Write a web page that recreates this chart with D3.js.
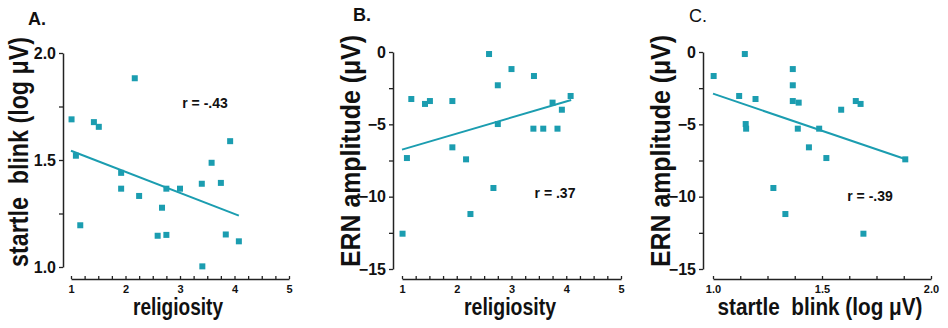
<!DOCTYPE html>
<html>
<head>
<meta charset="utf-8">
<script src="https://cdn.jsdelivr.net/npm/d3@7"></script>
<style>
  html, body { margin: 0; padding: 0; background: #fff; }
  svg { display: block; }
  .tick text { font-family: "Liberation Sans", Arial, sans-serif; font-weight: bold; fill: #111; }
  .title { font-family: "Liberation Sans", Arial, sans-serif; font-weight: bold; fill: #111; }
</style>
</head>
<body>
<svg id="chart" width="948" height="328"></svg>
<script>
// ---- data: 21 subjects ----
const religiosity = [1.01, 1.09, 1.17, 1.42, 1.51, 1.92, 1.92, 2.17, 2.25, 2.59, 2.67, 2.75, 2.75, 3.00, 3.40, 3.41, 3.58, 3.75, 3.84, 3.92, 4.08];
const startle     = [1.69, 1.52, 1.195, 1.677, 1.655, 1.44, 1.366, 1.882, 1.332, 1.146, 1.277, 1.150, 1.366, 1.366, 1.389, 1.003, 1.487, 1.393, 1.152, 1.588, 1.12];
const ern         = [-12.56, -7.33, -3.25, -3.59, -3.39, -6.59, -3.39, -7.42, -11.2, -0.14, -9.4, -4.98, -2.3, -1.18, -5.3, -1.66, -5.3, -3.5, -5.3, -3.99, -3.04];

// regression lines (endpoints)
const fitA_x = [1.0, 4.08], fitA_y = [1.543, 1.24];
const fitB_x = [1.0, 4.09], fitB_y = [-6.75, -3.32];
const fitC_x = [1.0, 1.881], fitC_y = [-2.88, -7.40];

// tick values
const religTicks = [1, 1.25, 1.5, 1.75, 2, 2.25, 2.5, 2.75, 3, 3.25, 3.5, 3.75, 4, 4.25, 4.5, 4.75, 5];
const religLabels = [1, 2, 3, 4, 5];
const startleTicks = [1, 1.25, 1.5, 1.75, 2];
const startleLabels = [1, 1.5, 2];
const startleXTicks = [1, 1.125, 1.25, 1.375, 1.5, 1.625, 1.75, 1.875, 2];
const ernTicks = [0, -2.5, -5, -7.5, -10, -12.5, -15];
const ernLabels = [0, -5, -10, -15];

const panels = ["A.", "B.", "C."];
const rLabels = ["r = -.43", "r = .37", "r = -.39"];
const xTitles = ["religiosity", "religiosity", "startle\u00a0\u00a0blink (log \u03bcV)"];
const yTitles = ["startle\u00a0\u00a0blink (log \u03bcV)", "ERN amplitude (\u03bcV)", "ERN amplitude (\u03bcV)"];

const teal = "#1b9db0";
const axisColor = "#222";

const svg = d3.select("#chart");

// place a centred text and stretch/squeeze it horizontally to a target width
function fitText(sel, x, y, rot, target) {
  const w = sel.node().getComputedTextLength();
  const sx = target / w;
  sel.attr("x", 0).attr("y", 0).attr("text-anchor", "middle")
     .attr("transform", `translate(${x},${y}) rotate(${rot}) scale(${sx},1)`);
}

const cfg = [
  { xs: religiosity, ys: startle, x: d3.scaleLinear([1, 5], [71, 289]), y: d3.scaleLinear([1, 2], [267, 53]),
    yAxisX: 63, xAxisY: 279, xTicks: religTicks, xLab: religLabels, xFmt: d3.format("d"),
    yTicks: startleTicks, yLab: startleLabels, yFmt: d3.format(".1f"),
    fx: fitA_x, fy: fitA_y, lab: [28, 25, true], r: [205, 108], xt: [178, 315], yt: [28, 152], tl: [90, 230] },
  { xs: religiosity, ys: ern, x: d3.scaleLinear([1, 5], [402, 621]), y: d3.scaleLinear([-15, 0], [269, 52]),
    yAxisX: 393, xAxisY: 279, xTicks: religTicks, xLab: religLabels, xFmt: d3.format("d"),
    yTicks: ernTicks, yLab: ernLabels, yFmt: d3.format("d"),
    fx: fitB_x, fy: fitB_y, lab: [353, 21, true], r: [555, 198], xt: [510, 315], yt: [360, 151], tl: [92, 232] },
  { xs: startle, ys: ern, x: d3.scaleLinear([1, 2], [713, 931]), y: d3.scaleLinear([-15, 0], [269, 52]),
    yAxisX: 703, xAxisY: 279, xTicks: startleXTicks, xLab: startleLabels, xFmt: d3.format(".1f"),
    yTicks: ernTicks, yLab: ernLabels, yFmt: d3.format("d"),
    fx: fitC_x, fy: fitC_y, lab: [689, 22, false], r: [870, 201], xt: [820, 315], yt: [670, 151], tl: [205, 232] }
];

cfg.forEach((c, i) => {
  const g = svg.append("g");

  // y axis
  const yAx = d3.axisLeft(c.y).tickValues(c.yTicks).tickSizeInner(4).tickSizeOuter(0).tickPadding(3)
    .tickFormat(v => c.yLab.includes(v) ? c.yFmt(v) : "");
  const yg = g.append("g").attr("transform", `translate(${c.yAxisX},0)`).call(yAx);
  yg.selectAll("text").style("font-size", "16px");

  // x axis (ticks point up)
  const xAx = d3.axisBottom(c.x).tickValues(c.xTicks).tickSizeInner(-3).tickSizeOuter(0).tickPadding(6)
    .tickFormat(v => c.xLab.includes(v) ? c.xFmt(v) : "");
  const xg = g.append("g").attr("transform", `translate(0,${c.xAxisY})`).call(xAx);
  xg.selectAll("text").style("font-size", "11px");

  [yg, xg].forEach(a => {
    a.select(".domain").attr("stroke", axisColor).attr("stroke-width", 1.5);
    a.selectAll(".tick line").attr("stroke", axisColor).attr("stroke-width", 1.3);
  });

  // regression line
  g.append("line")
    .attr("x1", c.x(c.fx[0])).attr("y1", c.y(c.fy[0]))
    .attr("x2", c.x(c.fx[1])).attr("y2", c.y(c.fy[1]))
    .attr("stroke", teal).attr("stroke-width", 2);

  // points
  const s = 6;
  g.selectAll("rect.pt").data(d3.range(c.xs.length)).join("rect")
    .attr("class", "pt")
    .attr("x", k => c.x(c.xs[k]) - s / 2).attr("y", k => c.y(c.ys[k]) - s / 2)
    .attr("width", s).attr("height", s).attr("fill", teal);

  // panel label
  g.append("text").attr("class", "title").attr("x", c.lab[0]).attr("y", c.lab[1])
    .style("font-size", "18px").style("font-weight", c.lab[2] ? "bold" : "normal").text(panels[i]);

  // r label
  g.append("text").attr("class", "title").attr("x", c.r[0]).attr("y", c.r[1]).attr("text-anchor", "middle")
    .style("font-size", "14px").text(rLabels[i]);

  // x title
  const xt = g.append("text").attr("class", "title").style("font-size", "23px").text(xTitles[i]);
  fitText(xt, c.xt[0], c.xt[1], 0, c.tl[0]);

  // y title
  const yt = g.append("text").attr("class", "title").style("font-size", "27px").text(yTitles[i]);
  fitText(yt, c.yt[0], c.yt[1], -90, c.tl[1]);
});
</script>
</body>
</html>
